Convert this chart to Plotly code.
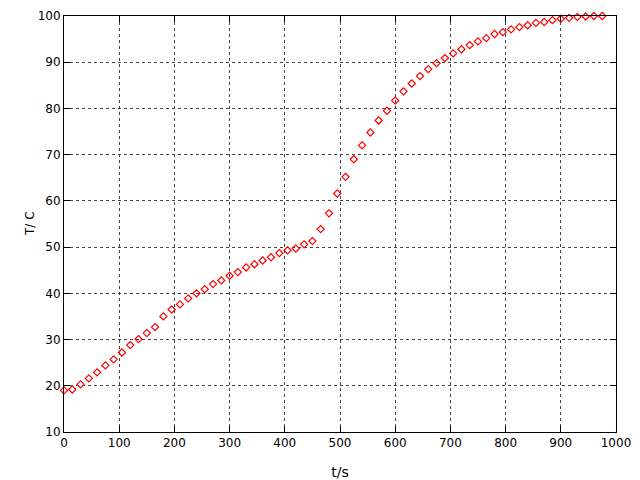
import plotly.graph_objects as go

t_s = [0, 15, 30, 45, 60, 75, 90, 105, 120, 135, 150, 165, 180, 195, 210, 225,
       240, 255, 270, 285, 300, 315, 330, 345, 360, 375, 390, 405, 420, 435,
       450, 465, 480, 495, 510, 525, 540, 555, 570, 585, 600, 615, 630, 645,
       660, 675, 690, 705, 720, 735, 750, 765, 780, 795, 810, 825, 840, 855,
       870, 885, 900, 915, 930, 945, 960, 975]
temp_c = [19.0, 19.2, 20.3, 21.6, 22.9, 24.4, 25.7, 27.2, 28.8, 30.1, 31.4, 32.7,
          35.0, 36.5, 37.6, 38.9, 40.0, 40.9, 42.0, 42.8, 43.8, 44.6, 45.6, 46.3,
          47.1, 47.8, 48.7, 49.3, 49.7, 50.6, 51.3, 53.9, 57.3, 61.6, 65.2, 69.0,
          72.0, 74.8, 77.4, 79.5, 81.7, 83.7, 85.4, 87.0, 88.5, 89.8, 90.9, 91.9,
          92.8, 93.7, 94.5, 95.2, 96.1, 96.5, 97.1, 97.6, 98.0, 98.5, 98.7, 99.1,
          99.4, 99.6, 99.8, 99.9, 100.0, 100.0]

x_ticks = list(range(0, 1001, 100))
y_ticks = list(range(10, 101, 10))

fig = go.Figure()
fig.add_trace(go.Scatter(
    x=t_s, y=temp_c, mode="markers",
    marker=dict(symbol="diamond-open", size=5.5, color="#ff0000",
                line=dict(width=1.2, color="#ff0000")),
    cliponaxis=False, showlegend=False,
))

axis_common = dict(
    showline=True, linecolor="black", linewidth=1, mirror="ticks",
    ticks="inside", ticklen=6, tickcolor="black", tickwidth=1,
    showgrid=True, gridcolor="#444444", gridwidth=1, griddash="3px,3px",
    zeroline=False, automargin=False,
    tickfont=dict(family="DejaVu Sans", size=12, color="black"),
)

fig.update_layout(
    width=640, height=480,
    margin=dict(l=56, r=32, t=8, b=56),
    paper_bgcolor="white", plot_bgcolor="white",
    font=dict(family="DejaVu Sans", size=12, color="black"),
    xaxis=dict(range=[0, 1000], tickvals=x_ticks, title=dict(text="t/s", standoff=17),
               **axis_common),
    yaxis=dict(range=[10, 100], tickvals=y_ticks, **axis_common),
    annotations=[dict(text="T/ C", textangle=-90, xref="paper", yref="paper",
                      x=0, y=0.5, xanchor="center", yanchor="middle",
                      xshift=-34, showarrow=False,
                      font=dict(family="DejaVu Sans", size=12, color="black"))],
)

fig.write_html("out.html")
